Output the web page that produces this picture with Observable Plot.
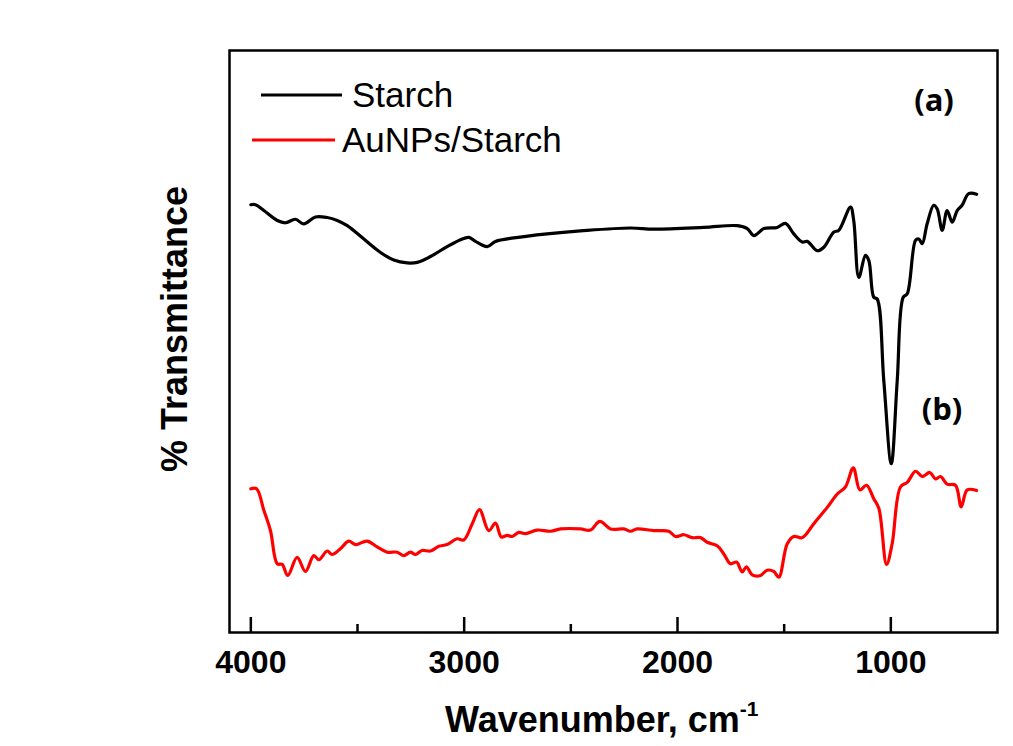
<!DOCTYPE html>
<html>
<head>
<meta charset="utf-8">
<script src="https://cdn.jsdelivr.net/npm/d3@7"></script>
<script src="https://cdn.jsdelivr.net/npm/@observablehq/plot@0.6"></script>
<style>
  html, body { margin: 0; padding: 0; background: #fff; }
  #chart svg { display: block; }
</style>
</head>
<body>
<div id="chart"></div>
<script>
// Starch spectrum: wavenumber (cm-1) and % transmittance (arbitrary offset units)
const starchWn = [4000,3978,3939,3876,3838,3791,3752,3697,3642,3595,3548,3470,3392,3330,3267,3220,3158,3080,3017,2978,2947,2892,2853,2767,2611,2455,2220,2111,1877,1720,1673,1642,1595,1533,1494,1455,1415,1392,1345,1314,1267,1244,1189,1174,1150,1119,1103,1080,1064,1033,998,970,942,923,884,869,853,830,799,783,759,736,712,689,666,635,598];
const starchT  = [73.5,73.5,72.5,70.8,70.4,71.0,70.2,71.4,71.3,70.8,69.9,67.6,65.3,64.0,63.5,63.6,64.6,66.3,67.5,67.9,67.2,66.3,67.2,67.8,68.5,69.0,69.5,69.3,69.6,69.9,69.4,68.2,69.4,69.6,70.3,68.5,67.1,67.2,65.6,66.2,68.8,69.1,73.1,70.8,61.0,64.8,63.9,57.6,57.3,43.3,29.0,43.3,57.6,58.2,67.4,67.6,66.8,70.2,73.4,72.8,69.1,72.5,70.5,72.5,73.4,75.4,75.3];

// AuNPs/Starch spectrum
const auWn = [4000,3973,3939,3908,3876,3853,3827,3783,3744,3705,3681,3642,3619,3580,3541,3509,3455,3408,3361,3314,3283,3252,3228,3197,3158,3119,3080,3033,3002,2962,2928,2885,2853,2826,2798,2775,2744,2712,2658,2595,2548,2455,2408,2364,2314,2252,2220,2189,2111,2041,2009,1970,1931,1892,1861,1814,1783,1752,1723,1697,1677,1650,1611,1580,1549,1525,1486,1455,1415,1361,1298,1251,1213,1176,1145,1114,1080,1056,1020,994,955,923,884,853,817,791,767,736,697,670,642,598];
const auT  = [24.7,24.7,21.0,17.5,11.8,11.7,9.8,12.9,10.5,13.2,12.5,14.0,13.4,14.4,15.7,15.1,15.7,14.7,13.8,13.8,13.2,13.8,13.4,14.1,14.0,14.8,15.1,16.1,15.9,18.7,21.1,17.5,18.8,16.4,16.7,16.5,17.2,17.0,17.6,17.4,17.8,17.8,17.6,19.1,17.8,17.8,17.4,17.8,17.5,17.4,16.5,16.8,16.3,16.3,15.5,14.9,13.5,11.8,12.1,10.4,11.3,9.9,9.8,10.7,10.5,9.5,15.2,16.5,16.3,18.7,21.5,23.8,25.0,28.3,24.5,25.3,23.0,21.3,11.7,15.2,25.0,25.8,27.7,26.8,27.5,26.4,26.8,25.5,25.3,21.6,24.5,24.4];

const majorTicks = [4000, 3000, 2000, 1000];
const minorTicks = [3500, 2500, 1500];
const seriesNames = ["Starch", "AuNPs/Starch"];
const seriesColors = ["#000000", "#ff0000"];
const panelLabels = ["(a)", "(b)"];
const xTitle = "Wavenumber, cm";
const xTitleSup = "-1";
const yTitle = "% Transmittance";

const starch = starchWn.map((w, i) => ({wn: w, t: starchT[i]}));
const aunps = auWn.map((w, i) => ({wn: w, t: auT[i]}));

const W = 1013, H = 746;
const mL = 229, mR = 16, mT = 50, mB = 114;
const innerH = H - mT - mB;
const armo = "'Liberation Sans', Arial, sans-serif";

const chart = Plot.plot({
  width: W,
  height: H,
  marginLeft: mL,
  marginRight: mR,
  marginTop: mT,
  marginBottom: mB,
  style: {background: "#fff", fontFamily: armo, color: "#000"},
  x: {domain: [4100, 500], axis: null, label: null},
  y: {domain: [0, 100], axis: null, label: null},
  marks: [
    Plot.tickX(majorTicks, {x: d => d, insetTop: innerH - 15, stroke: "#000", strokeWidth: 2.5}),
    Plot.tickX(minorTicks, {x: d => d, insetTop: innerH - 8, stroke: "#000", strokeWidth: 2.5}),
    Plot.axisX(majorTicks, {tickSize: 0, tickPadding: 18, fontSize: 32, fontWeight: "bold", tickFormat: d => String(d), fill: "#000", label: null}),
    Plot.line(starch, {x: "wn", y: "t", stroke: seriesColors[0], strokeWidth: 3.2, curve: "catmull-rom"}),
    Plot.line(aunps, {x: "wn", y: "t", stroke: seriesColors[1], strokeWidth: 3.2, curve: "catmull-rom"}),
    Plot.frame({stroke: "#000", strokeWidth: 2.5})
  ]
});
document.getElementById("chart").appendChild(chart);

const svg = d3.select(chart);

// Legend
const legend = [
  {name: seriesNames[0], color: seriesColors[0], y: 95, x1: 261, x2: 342, tx: 352, ty: 107},
  {name: seriesNames[1], color: seriesColors[1], y: 140, x1: 252, x2: 335, tx: 342, ty: 152}
];
const lg = svg.append("g");
legend.forEach(d => {
  lg.append("line").attr("x1", d.x1).attr("x2", d.x2).attr("y1", d.y).attr("y2", d.y)
    .attr("stroke", d.color).attr("stroke-width", 3.2);
  lg.append("text").attr("x", d.tx).attr("y", d.ty).attr("text-anchor", "start").text(d.name)
    .attr("font-family", armo).attr("font-size", 35).attr("fill", "#000");
});

// Panel labels
svg.append("text").attr("x", 934).attr("y", 111).attr("text-anchor", "middle")
  .attr("font-family", "'Open Sans', sans-serif").attr("font-weight", "bold").attr("font-size", 31)
  .text(panelLabels[0]);
svg.append("text").attr("x", 942).attr("y", 420).attr("text-anchor", "middle")
  .attr("font-family", "'Open Sans', sans-serif").attr("font-weight", "bold").attr("font-size", 31)
  .text(panelLabels[1]);

// Axis titles
const xt = svg.append("text").attr("x", 445).attr("y", 732).attr("text-anchor", "start")
  .attr("font-family", armo).attr("font-weight", "bold").attr("font-size", 36).attr("fill", "#000");
xt.append("tspan").text(xTitle);
xt.append("tspan").attr("dy", -16).attr("font-size", 21).text(xTitleSup);

svg.append("text").attr("transform", "translate(187,329) rotate(-90)")
  .attr("text-anchor", "middle")
  .attr("font-family", armo).attr("font-weight", "bold").attr("font-size", 36).attr("fill", "#000")
  .text(yTitle);
</script>
</body>
</html>
